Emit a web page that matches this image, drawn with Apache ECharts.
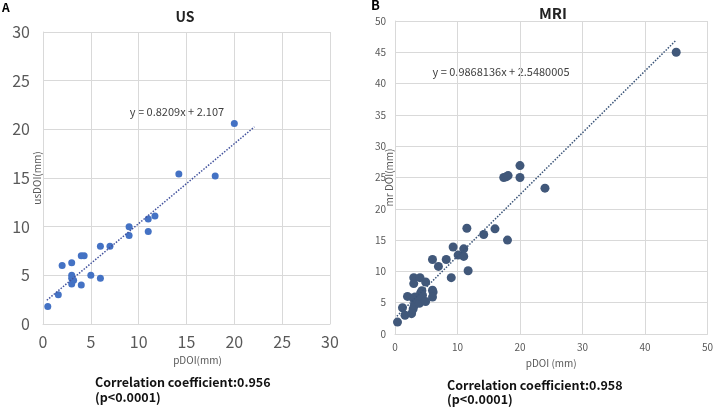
<!DOCTYPE html>
<html>
<head>
<meta charset="utf-8">
<script src="https://cdn.jsdelivr.net/npm/echarts@6/dist/echarts.min.js"></script>
<style>
  html, body { margin: 0; padding: 0; background: #fff; }
  #chart { width: 716px; height: 409px; }
</style>
</head>
<body>
<div id="chart"></div>
<script>
// panel A: US vs pathology
const usPoints = [
  [0.5, 1.8], [1.6, 3.0], [2.0, 6.0], [3.0, 6.3], [3.0, 5.0], [3.0, 4.7],
  [3.2, 4.5], [3.0, 4.1], [4.0, 4.0], [4.0, 7.0], [4.3, 7.0], [5.0, 5.0],
  [6.0, 8.0], [6.0, 4.7], [7.0, 8.0], [9.0, 10.0], [9.0, 9.1], [11.0, 10.8],
  [11.0, 9.5], [11.7, 11.1], [14.2, 15.4], [18.0, 15.2], [20.0, 20.6]
];
const usTrend = [[0.4, 2.44], [22.1, 20.25]];
const usEquation = "y = 0.8209x + 2.107";

// panel B: MRI vs pathology
const mriPoints = [
  [0.4, 1.9], [1.2, 4.2], [1.6, 3.0], [2.0, 6.0], [2.65, 3.25], [2.9, 4.0],
  [3.0, 9.0], [3.0, 8.05], [2.9, 5.75], [3.2, 5.9], [3.1, 4.6], [3.45, 5.6],
  [3.9, 4.9], [4.0, 9.0], [4.0, 6.1], [4.1, 6.55], [4.3, 6.9], [4.4, 6.2],
  [4.9, 8.3], [4.9, 5.2], [6.0, 11.9], [6.0, 7.0], [6.1, 6.7], [6.0, 5.9],
  [6.95, 10.8], [8.2, 11.9], [9.0, 9.0], [9.3, 13.9], [10.1, 12.6], [11.0, 13.6],
  [11.0, 12.4], [11.5, 16.9], [11.7, 10.1], [14.2, 15.9], [16.0, 16.8], [18.0, 15.0],
  [17.4, 25.0], [17.8, 25.1], [18.1, 25.3], [20.0, 25.0], [20.0, 26.9], [24.0, 23.3],
  [45.0, 45.0]
];
const mriTrend = [[0.3, 2.84], [45.0, 46.95]];
const mriEquation = "y = 0.9868136x + 2.5480005";

const usNote = "Correlation coefficient:0.956\n(p<0.0001)";
const mriNote = "Correlation coefficient:0.958\n(p<0.0001)";

const gridColor = "#d9d9d9";
const labelColor = "#595959";
const font = "'Noto Sans CJK JP', 'Noto Sans', sans-serif";

let myChart = echarts.init(document.getElementById("chart"));

let option = {
  animation: false,
  backgroundColor: "#fff",
  textStyle: { fontFamily: font },
  grid: [
    { left: 43, right: 386, top: 32, bottom: 85 },
    { left: 395, right: 6, top: 21, bottom: 75 }
  ],
  xAxis: [
    {
      gridIndex: 0, type: "value", min: 0, max: 30, interval: 5,
      name: "pDOI(mm)", nameLocation: "middle", nameGap: 28,
      nameTextStyle: { color: labelColor, fontSize: 10, padding: [0, 0, 0, 22] },
      axisLine: { show: true, lineStyle: { color: gridColor } },
      axisTick: { show: false },
      axisLabel: { color: labelColor, fontSize: 16, margin: 10 },
      splitLine: { lineStyle: { color: gridColor } }
    },
    {
      gridIndex: 1, type: "value", min: 0, max: 50, interval: 10,
      name: "pDOI (mm)", nameLocation: "middle", nameGap: 24,
      nameTextStyle: { color: labelColor, fontSize: 10 },
      axisLine: { show: true, lineStyle: { color: gridColor } },
      axisTick: { show: false },
      axisLabel: { color: labelColor, fontSize: 10, margin: 8 },
      splitLine: { lineStyle: { color: gridColor } }
    }
  ],
  yAxis: [
    {
      gridIndex: 0, type: "value", min: 0, max: 30, interval: 5,
      name: "usDOI(mm)", nameLocation: "middle", nameGap: 1, nameMoveOverlap: false,
      nameTextStyle: { color: labelColor, fontSize: 10 },
      axisLine: { show: true, lineStyle: { color: gridColor } },
      axisTick: { show: false },
      axisLabel: { color: labelColor, fontSize: 16, margin: 13 },
      splitLine: { lineStyle: { color: gridColor } }
    },
    {
      gridIndex: 1, type: "value", min: 0, max: 50, interval: 5,
      name: "mr DOI(mm)", nameLocation: "middle", nameGap: 1, nameMoveOverlap: false,
      nameTextStyle: { color: labelColor, fontSize: 10 },
      axisLine: { show: true, lineStyle: { color: gridColor } },
      axisTick: { show: false },
      axisLabel: { color: labelColor, fontSize: 10, margin: 9 },
      splitLine: { lineStyle: { color: gridColor } }
    }
  ],
  graphic: [
    { type: "text", left: 2, top: 1, style: { text: "A", font: "bold 12px " + font, fill: "#000" } },
    { type: "text", left: 371, top: -1, style: { text: "B", font: "bold 13px " + font, fill: "#000" } },
    { type: "text", x: 185, y: 17, style: { text: "US", font: "bold 14px " + font, fill: "#222", align: "center", verticalAlign: "middle" } },
    { type: "text", x: 553, y: 13, style: { text: "MRI", font: "bold 15px " + font, fill: "#222", align: "center", verticalAlign: "middle" } },
    { type: "text", x: 177, y: 112, style: { text: usEquation, font: "11px " + font, fill: "#404040", align: "center", verticalAlign: "middle" } },
    { type: "text", x: 501, y: 72, style: { text: mriEquation, font: "11px " + font, fill: "#404040", align: "center", verticalAlign: "middle" } },
    { type: "text", left: 95, top: 375, style: { text: usNote, font: "bold 12.5px " + font, fill: "#111", lineHeight: 15 } },
    { type: "text", left: 447, top: 378, style: { text: mriNote, font: "bold 12.5px " + font, fill: "#111", lineHeight: 14 } }
  ],
  series: [
    {
      type: "line", xAxisIndex: 0, yAxisIndex: 0, data: usTrend,
      showSymbol: false, silent: true,
      lineStyle: { color: "#44549e", width: 1.5, type: "dotted" }
    },
    {
      type: "scatter", xAxisIndex: 0, yAxisIndex: 0, data: usPoints,
      symbolSize: 7, itemStyle: { color: "#4472c4", opacity: 1 }
    },
    {
      type: "line", xAxisIndex: 1, yAxisIndex: 1, data: mriTrend,
      showSymbol: false, silent: true,
      lineStyle: { color: "#3a5478", width: 1.5, type: "dotted" }
    },
    {
      type: "scatter", xAxisIndex: 1, yAxisIndex: 1, data: mriPoints,
      symbolSize: 9, itemStyle: { color: "#41587a", opacity: 1 }
    }
  ]
};

myChart.setOption(option);
</script>
</body>
</html>
